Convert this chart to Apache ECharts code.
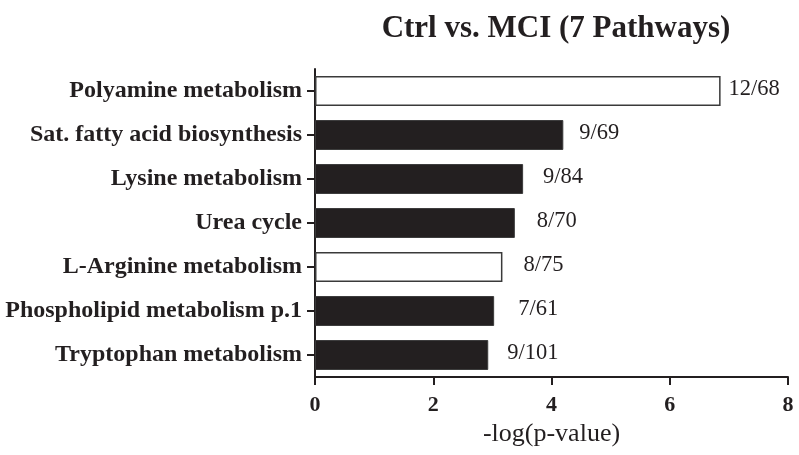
<!DOCTYPE html>
<html>
<head>
<meta charset="utf-8">
<script src="https://cdn.jsdelivr.net/npm/echarts@6/dist/echarts.min.js"></script>
<style>
  html, body { margin: 0; padding: 0; background: #fff; }
  #chart { width: 799px; height: 455px; }
</style>
</head>
<body>
<div id="chart"></div>
<script>
// Enriched pathways, top to bottom
const pathways = [
  'Polyamine metabolism',
  'Sat. fatty acid biosynthesis',
  'Lysine metabolism',
  'Urea cycle',
  'L-Arginine metabolism',
  'Phospholipid metabolism p.1',
  'Tryptophan metabolism'
];
// -log(p-value) per pathway
const negLogP = [6.86, 4.20, 3.52, 3.38, 3.17, 3.03, 2.93];
// hits / pathway size
const hitRatio = ['12/68', '9/69', '9/84', '8/70', '8/75', '7/61', '9/101'];
// open (unfilled) bars
const openBar = [true, false, false, false, true, false, false];
// x-axis ticks
const xTicks = [0, 2, 4, 6, 8];

// horizontal label spacing after each bar end, px
const labelGap = [8, 16, 20, 22, 21, 24, 19];

const serif = '"Liberation Serif", "DejaVu Serif", serif';
const ink = '#231f20';

const data = negLogP.map((v, i) => ({
  value: v,
  itemStyle: openBar[i]
    ? { color: '#ffffff', borderColor: '#3a3a3a', borderWidth: 1.5 }
    : { color: ink, borderColor: '#3a3a3a', borderWidth: 1 },
  label: { distance: labelGap[i], formatter: hitRatio[i] }
}));

const chart = echarts.init(document.getElementById('chart'), null, { renderer: 'canvas' });
chart.setOption({
  animation: false,
  backgroundColor: '#ffffff',
  title: {
    text: 'Ctrl vs. MCI (7 Pathways)',
    left: 551, top: 8, textAlign: 'center',
    textStyle: { fontFamily: serif, fontWeight: 'bold', fontSize: 31, color: ink }
  },
  grid: { left: 315, right: 11, top: 69, bottom: 78, containLabel: false },
  xAxis: {
    type: 'value',
    min: xTicks[0], max: xTicks[xTicks.length - 1], interval: 2,
    name: '-log(p-value)', nameLocation: 'middle', nameGap: 41,
    nameTextStyle: { fontFamily: serif, fontSize: 26, color: ink },
    axisLine: { show: true, lineStyle: { color: ink, width: 2 } },
    axisTick: { show: true, length: 8, lineStyle: { color: ink, width: 2 } },
    axisLabel: { fontFamily: serif, fontWeight: 'bold', fontSize: 22, color: ink, margin: 17 },
    splitLine: { show: false }
  },
  yAxis: {
    type: 'category',
    data: pathways,
    inverse: true,
    axisLine: { show: true, lineStyle: { color: ink, width: 2 } },
    axisTick: { show: true, alignWithLabel: true, length: 8, lineStyle: { color: ink, width: 2 } },
    axisLabel: { fontFamily: serif, fontWeight: 'bold', fontSize: 24, color: ink, margin: 13 }
  },
  series: [{
    type: 'bar',
    data: data,
    barCategoryGap: '32%',
    label: {
      show: true, position: 'right',
      fontFamily: serif, fontSize: 22.5, color: ink, offset: [0, -2]
    }
  }]
});
</script>
</body>
</html>
